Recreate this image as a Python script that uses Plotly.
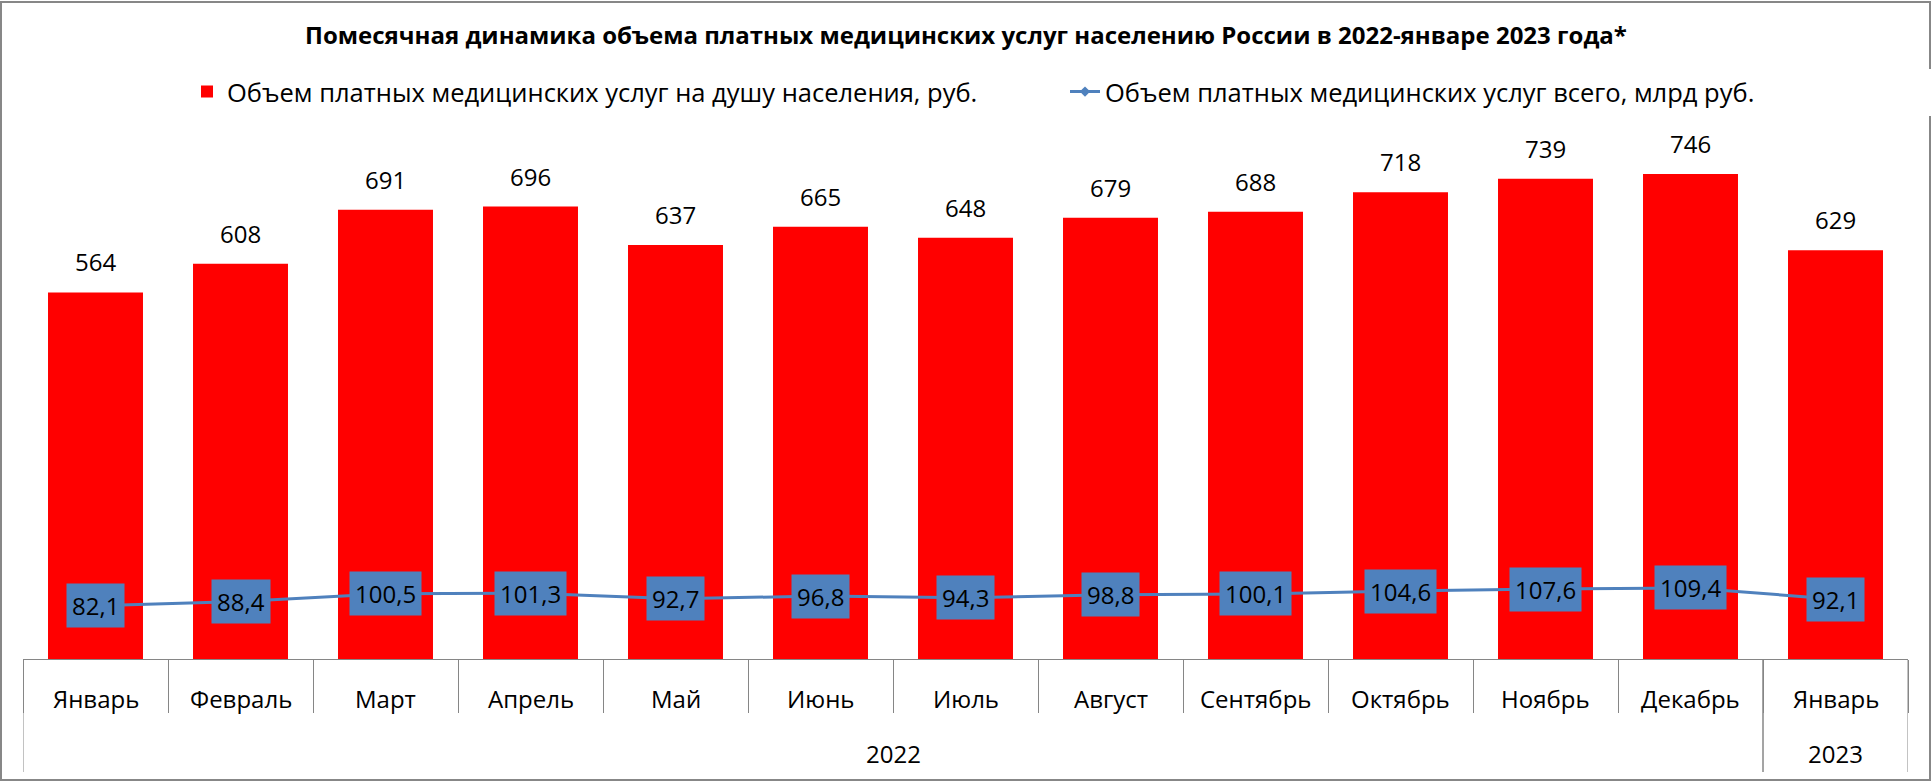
import plotly.graph_objects as go

months = ["Январь", "Февраль", "Март", "Апрель", "Май", "Июнь", "Июль",
          "Август", "Сентябрь", "Октябрь", "Ноябрь", "Декабрь", "Январь"]
years = ["2022"] * 12 + ["2023"]
per_capita = [564, 608, 691, 696, 637, 665, 648, 679, 688, 718, 739, 746, 629]
total_bln = [82.1, 88.4, 100.5, 101.3, 92.7, 96.8, 94.3, 98.8, 100.1, 104.6, 107.6, 109.4, 92.1]

title = "Помесячная динамика объема платных медицинских услуг населению России в 2022-январе 2023 года*"
name_bar = "Объем платных медицинских услуг на душу населения, руб."
name_line = "Объем платных медицинских услуг всего, млрд руб."

FONT = "Open Sans"
W, H = 1932, 782
ML, MR, MT, MB = 23, 24, 120, 123
PX_PER_UNIT = 0.65
plot_h = H - MT - MB
plot_w = W - ML - MR
ymax = plot_h / PX_PER_UNIT
AXIS_GRAY = "#868686"

def py(px_below_axis):
    """paper y for a pixel offset below the x axis"""
    return -px_below_axis / plot_h

idx = list(range(len(months)))

fig = go.Figure()
fig.add_trace(go.Bar(
    x=idx, y=per_capita, name=name_bar,
    marker=dict(color="#FF0000", line=dict(width=0)),
))
fig.add_trace(go.Scatter(
    x=idx, y=total_bln, name=name_line, mode="lines+markers",
    line=dict(color="#4F81BD", width=3),
    marker=dict(symbol="diamond", size=8, color="#4F81BD"),
))

anns = []
for i, v in zip(idx, per_capita):
    anns.append(dict(x=i, y=v, xref="x", yref="y", text=str(v), showarrow=False,
                     yanchor="bottom", yshift=12,
                     font=dict(family=FONT, size=24, color="black")))
for i, v in zip(idx, total_bln):
    anns.append(dict(x=i, y=v, xref="x", yref="y", text=f"{v:.1f}".replace(".", ","),
                     showarrow=False, bgcolor="#4F81BD", borderpad=5,
                     font=dict(family=FONT, size=24, color="black")))
# month labels
for i, m in zip(idx, months):
    anns.append(dict(x=i, y=py(39), xref="x", yref="paper", text=m, showarrow=False,
                     yanchor="middle", font=dict(family=FONT, size=24, color="black")))
# year labels and group boundaries
shapes = []
uniq_years = []
for y in years:
    if y not in uniq_years:
        uniq_years.append(y)
for yr in uniq_years:
    members = [i for i in idx if years[i] == yr]
    anns.append(dict(x=sum(members) / len(members), y=py(94), xref="x", yref="paper",
                     text=yr, showarrow=False, yanchor="middle",
                     font=dict(family=FONT, size=24, color="black")))
    for b in (members[0] - 0.5, members[-1] + 0.5):
        shapes.append(dict(type="line", xref="x", yref="paper", x0=b, x1=b,
                           y0=0, y1=py(113), line=dict(color=AXIS_GRAY, width=1)))

# outer chart border
shapes.append(dict(type="rect", xref="paper", yref="paper",
                   x0=-(ML - 1) / plot_w, x1=1 + (MR - 2) / plot_w,
                   y0=py(MB - 2), y1=1 + (MT - 2) / plot_h,
                   line=dict(color="#878787", width=2), fillcolor="rgba(0,0,0,0)"))

fig.update_layout(
    width=W, height=H,
    margin=dict(l=ML, r=MR, t=MT, b=MB, autoexpand=False),
    paper_bgcolor="white", plot_bgcolor="white",
    font=dict(family=FONT, color="black"),
    title=dict(text="<b>" + title + "</b>", x=0.5, xanchor="center",
               y=1 - 36 / H, yanchor="middle", yref="container",
               font=dict(family=FONT, size=24, color="black")),
    legend=dict(orientation="h", x=(187 - ML) / plot_w, xanchor="left",
                y=1 + (MT - 92) / plot_h, yanchor="middle",
                entrywidth=833, entrywidthmode="pixels",
                font=dict(family=FONT, size=25.5, color="black"),
                traceorder="normal"),
    bargap=0.345,
    showlegend=True,
    annotations=anns,
    shapes=shapes,
    xaxis=dict(range=[-0.5, len(months) - 0.5], showline=True, linecolor=AXIS_GRAY,
               linewidth=1, ticks="outside", tickvals=[i - 0.5 for i in idx + [len(months)]],
               ticklen=53, tickcolor=AXIS_GRAY, tickwidth=1, showticklabels=False,
               showgrid=False, zeroline=False),
    yaxis=dict(range=[0, ymax], visible=False, showgrid=False, zeroline=False),
)

fig.write_html("out.html", config={"displayModeBar": False},
               post_script="document.body.style.margin='0';document.body.style.overflow='hidden';")
